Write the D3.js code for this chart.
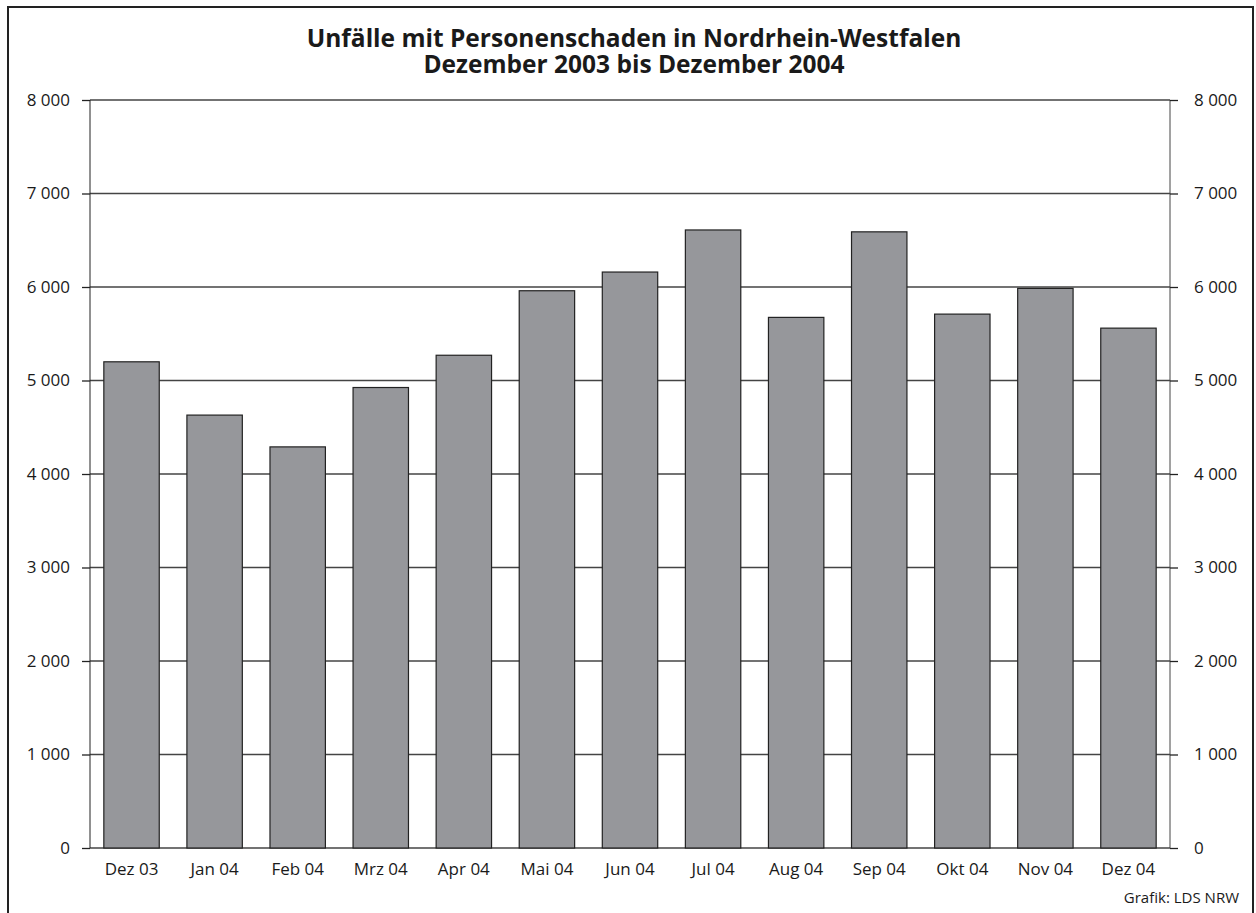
<!DOCTYPE html>
<html>
<head>
<meta charset="utf-8">
<script src="https://d3js.org/d3.v7.min.js"></script>
<style>
    body { margin: 0; background: #fff; }
    text { font-family: "Open Sans", "DejaVu Sans", sans-serif; fill: #1a1a1a; }
    .title { font-weight: bold; font-size: 24.5px; }
    .tick text { font-size: 17px; }
</style>
</head>
<body>
<script>
    // Data
    var months = ["Dez 03", "Jan 04", "Feb 04", "Mrz 04", "Apr 04", "Mai 04", "Jun 04",
                  "Jul 04", "Aug 04", "Sep 04", "Okt 04", "Nov 04", "Dez 04"];
    var unfaelle = [5200, 4630, 4290, 4925, 5270, 5960, 6160, 6610, 5675, 6590, 5710, 5985, 5560];
    var yTicks = [0, 1000, 2000, 3000, 4000, 5000, 6000, 7000, 8000];
    var titleLines = ["Unfälle mit Personenschaden in Nordrhein-Westfalen",
                      "Dezember 2003 bis Dezember 2004"];
    var source = "Grafik: LDS NRW";

    var w = 1256, h = 913;
    var mLeft = 90, mRight = 1170, mTop = 100, mBottom = 848;

    var svg = d3.select("body").append("svg")
        .attr("width", w)
        .attr("height", h);

    // outer frame
    svg.append("rect")
        .attr("x", 8).attr("y", 7)
        .attr("width", 1245).attr("height", 930)
        .attr("fill", "none")
        .attr("stroke", "#222")
        .attr("stroke-width", 2);

    var nf = d3.formatLocale({decimal: ",", thousands: " ", grouping: [3], currency: ["", ""]}).format(",d");

    var x = d3.scaleBand().domain(months).range([mLeft, mRight]).paddingInner(0.333).paddingOuter(0.1665);
    var y = d3.scaleLinear().domain([0, 8000]).range([mBottom, mTop]);

    // gridlines
    svg.append("g").selectAll("line")
        .data(yTicks)
        .enter().append("line")
        .attr("x1", mLeft).attr("x2", mRight)
        .attr("y1", function(d) { return y(d); })
        .attr("y2", function(d) { return y(d); })
        .attr("stroke", "#444")
        .attr("stroke-width", 1.3);

    // bars
    svg.append("g").selectAll("rect")
        .data(unfaelle)
        .enter().append("rect")
        .attr("x", function(d, i) { return x(months[i]); })
        .attr("y", function(d) { return y(d); })
        .attr("width", x.bandwidth())
        .attr("height", function(d) { return y(0) - y(d); })
        .attr("fill", "#96979b")
        .attr("stroke", "#222")
        .attr("stroke-width", 1.2);

    // axes
    var yLeft = d3.axisLeft(y).tickValues(yTicks).tickFormat(nf).tickSize(8).tickPadding(12);
    var yRight = d3.axisRight(y).tickValues(yTicks).tickFormat(nf).tickSize(8).tickPadding(16);

    svg.append("g").attr("transform", "translate(" + mLeft + ",0)").call(yLeft)
        .call(function(g) { g.select(".domain").attr("stroke", "#222").attr("d", "M0," + mTop + "V" + mBottom); })
        .call(function(g) { g.selectAll(".tick line").attr("stroke", "#222").attr("stroke-width", 1.3); });

    svg.append("g").attr("transform", "translate(" + mRight + ",0)").call(yRight)
        .call(function(g) { g.select(".domain").attr("stroke", "#444").attr("d", "M0," + mTop + "V" + mBottom); })
        .call(function(g) { g.selectAll(".tick line").attr("stroke", "#222").attr("stroke-width", 1.3); });

    var xAxis = d3.axisBottom(x).tickSize(0).tickPadding(15);
    svg.append("g").attr("transform", "translate(0," + mBottom + ")").call(xAxis)
        .call(function(g) { g.select(".domain").remove(); });

    // title
    svg.append("g").selectAll("text")
        .data(titleLines)
        .enter().append("text")
        .attr("class", "title")
        .attr("x", 634)
        .attr("y", function(d, i) { return 47 + i * 26; })
        .attr("text-anchor", "middle")
        .text(function(d) { return d; });

    svg.append("text")
        .attr("x", 1239).attr("y", 903)
        .attr("text-anchor", "end")
        .style("font-size", "15px")
        .text(source);
</script>
</body>
</html>
